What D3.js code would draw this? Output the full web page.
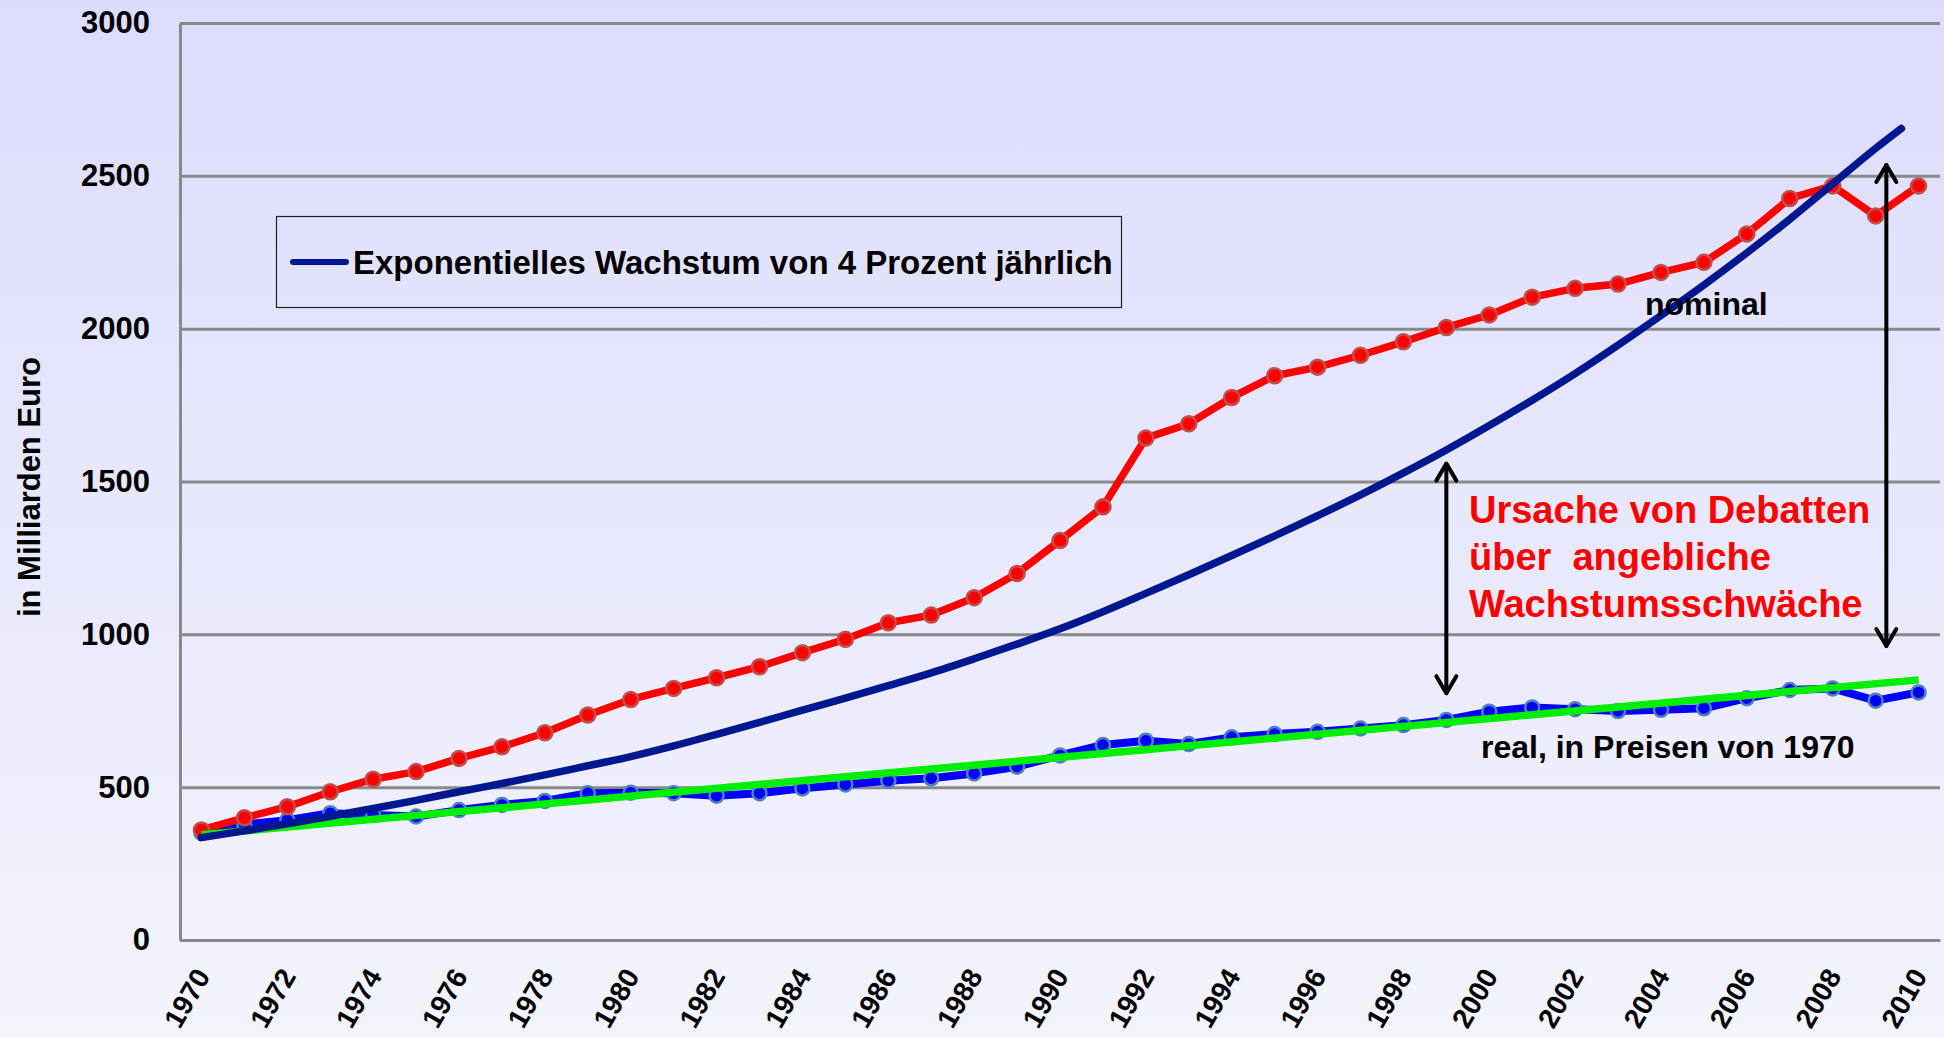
<!DOCTYPE html>
<html>
<head>
<meta charset="utf-8">
<script src="https://cdn.jsdelivr.net/npm/d3@7"></script>
<style>
html, body { margin: 0; padding: 0; background: #e8e8fd; }
svg { display: block; font-family: "Liberation Sans", Arial, Helvetica, sans-serif; }
</style>
</head>
<body>
<div id="chart"></div>
<script>
'use strict';

// Data (Mrd. Euro)
const years = [1970, 1971, 1972, 1973, 1974, 1975, 1976, 1977, 1978, 1979,
    1980, 1981, 1982, 1983, 1984, 1985, 1986, 1987, 1988, 1989,
    1990, 1991, 1992, 1993, 1994, 1995, 1996, 1997, 1998, 1999,
    2000, 2001, 2002, 2003, 2004, 2005, 2006, 2007, 2008, 2009, 2010];

const nominal = [360, 400, 436, 485, 526, 551, 594, 632, 678, 736,
    787, 823, 858, 894, 940, 984, 1038, 1063, 1120, 1199,
    1307, 1417, 1642, 1689, 1775, 1846, 1874, 1913, 1957, 2004,
    2045, 2103, 2132, 2146, 2184, 2217, 2310, 2426, 2467, 2369, 2467];

const real = [350, 378, 392, 415, 409, 404, 425, 442, 455, 480,
    482, 480, 472, 480, 496, 509, 521, 529, 545, 567,
    604, 638, 652, 641, 663, 674, 681, 692, 703, 720,
    747, 761, 755, 749, 753, 758, 791, 818, 823, 783, 810];

// the 4% curve as drawn (ends a bit before 2010)
const expYears = [1970, 1971, 1972, 1973, 1974, 1975, 1976, 1977, 1978, 1979,
    1980, 1981, 1982, 1983, 1984, 1985, 1986, 1987, 1988, 1989,
    1990, 1991, 1992, 1993, 1994, 1995, 1996, 1997, 1998, 1999,
    2000, 2001, 2002, 2003, 2004, 2005, 2006, 2007, 2008, 2009, 2009.6];
const expValues = [335, 357, 380, 405, 430, 457, 485, 512, 540, 570,
    600, 635, 673, 712, 752, 791, 832, 874, 920, 968,
    1018, 1074, 1134, 1195, 1258, 1322, 1388, 1456, 1528, 1603,
    1683, 1766, 1853, 1946, 2043, 2143, 2248, 2358, 2474, 2590, 2655];

const trendYears = [1970, 2010];
const trendValues = [344, 851];

const yTicks = [0, 500, 1000, 1500, 2000, 2500, 3000];
const xTicks = [1970, 1972, 1974, 1976, 1978, 1980, 1982, 1984, 1986, 1988, 1990,
    1992, 1994, 1996, 1998, 2000, 2002, 2004, 2006, 2008, 2010];

const arrowYears = [1999, 2009.25];
const arrowFrom = [1565, 2542];
const arrowTo = [801, 955];

const yTitle = 'in Milliarden Euro';
const legendLabel = 'Exponentielles Wachstum von 4 Prozent jährlich';
const nominalLabel = 'nominal';
const realLabel = 'real, in Preisen von 1970';
const noteLines = ['Ursache von Debatten', 'über  angebliche', 'Wachstumsschwäche'];

const palette = {
    grid: '#898989',
    nominal: '#ff0000',
    nominalRim: '#c0504d',
    real: '#0000ff',
    realRim: '#4f81bd',
    exp: '#00188f',
    trend: '#00ee00',
    ink: '#000000'
};

const width = 1944, height = 1037;
const margins = { top: 23, right: 4, bottom: 97, left: 180 };
const innerWidth = width - margins.left - margins.right;
const innerHeight = height - margins.top - margins.bottom;

const svg = d3.select('#chart').append('svg')
    .attr('width', width)
    .attr('height', height);

let grad = svg.append('defs').append('linearGradient')
    .attr('id', 'bg')
    .attr('x1', 0).attr('y1', 0).attr('x2', 0).attr('y2', 1);
grad.append('stop').attr('offset', '0%').attr('stop-color', '#dcdcfd');
grad.append('stop').attr('offset', '100%').attr('stop-color', '#f4f4fd');

svg.append('rect')
    .attr('width', width)
    .attr('height', height)
    .attr('fill', 'url(#bg)');

const scaleX = d3.scaleLinear()
    .domain([1969.5, 2010.5])
    .range([0, innerWidth]);

const scaleY = d3.scaleLinear()
    .domain([0, 3000])
    .range([innerHeight, 0]);

const chart = svg.append('g')
    .attr('transform', `translate(${margins.left}, ${margins.top})`);

// y axis + grid
let yAxis = d3.axisLeft(scaleY)
    .tickValues(yTicks)
    .tickFormat(d3.format('d'))
    .tickSize(-innerWidth)
    .tickSizeOuter(0)
    .tickPadding(30);

let axisY = chart.append('g').call(yAxis);
axisY.select('.domain')
    .attr('stroke', palette.grid)
    .attr('stroke-width', 3);
axisY.selectAll('.tick line')
    .attr('stroke', palette.grid)
    .attr('stroke-width', 3);
axisY.selectAll('.tick text')
    .attr('fill', palette.ink)
    .style('font-size', '31px')
    .style('font-weight', 'bold')
    .style('font-family', '"Liberation Sans", Arial, sans-serif');

// x axis
let xAxis = d3.axisBottom(scaleX)
    .tickValues(xTicks)
    .tickFormat(d3.format('d'))
    .tickSize(0)
    .tickSizeOuter(0);

let axisX = chart.append('g')
    .attr('transform', `translate(0, ${innerHeight})`)
    .call(xAxis);
axisX.select('.domain')
    .attr('stroke', palette.grid)
    .attr('stroke-width', 3);
axisX.selectAll('.tick text')
    .attr('x', 0)
    .attr('y', 0)
    .attr('dy', 0)
    .attr('text-anchor', 'end')
    .attr('transform', 'translate(9, 36) rotate(-60)')
    .attr('fill', palette.ink)
    .style('font-size', '28px')
    .style('font-weight', 'bold')
    .style('font-family', '"Liberation Sans", Arial, sans-serif');

// y title
svg.append('text')
    .attr('transform', 'translate(40, 487) rotate(-90)')
    .attr('text-anchor', 'middle')
    .style('font-size', '31px')
    .style('font-weight', 'bold')
    .attr('fill', palette.ink)
    .text(yTitle);

// series
let line = d3.line()
    .x(d => scaleX(d[0]))
    .y(d => scaleY(d[1]));

let realPts = years.map((y, i) => [y, real[i]]);
let nominalPts = years.map((y, i) => [y, nominal[i]]);
let expPts = expYears.map((y, i) => [y, expValues[i]]);
let trendPts = trendYears.map((y, i) => [y, trendValues[i]]);

chart.append('path')
    .datum(realPts)
    .attr('d', line)
    .attr('fill', 'none')
    .attr('stroke', palette.real)
    .attr('stroke-width', 8)
    .attr('stroke-linejoin', 'round');

chart.selectAll('.real-dot')
    .data(realPts)
    .join('circle')
    .attr('class', 'real-dot')
    .attr('cx', d => scaleX(d[0]))
    .attr('cy', d => scaleY(d[1]))
    .attr('r', 7)
    .attr('fill', palette.real)
    .attr('stroke', palette.realRim)
    .attr('stroke-width', 2.5);

chart.append('path')
    .datum(nominalPts)
    .attr('d', line)
    .attr('fill', 'none')
    .attr('stroke', palette.nominal)
    .attr('stroke-width', 7.5)
    .attr('stroke-linejoin', 'round');

chart.selectAll('.nom-dot')
    .data(nominalPts)
    .join('circle')
    .attr('class', 'nom-dot')
    .attr('cx', d => scaleX(d[0]))
    .attr('cy', d => scaleY(d[1]))
    .attr('r', 7.5)
    .attr('fill', palette.nominal)
    .attr('stroke', palette.nominalRim)
    .attr('stroke-width', 2.5);

chart.append('path')
    .datum(trendPts)
    .attr('d', line)
    .attr('fill', 'none')
    .attr('stroke', palette.trend)
    .attr('stroke-width', 7.5);

chart.append('path')
    .datum(expPts)
    .attr('d', line.curve(d3.curveMonotoneX))
    .attr('fill', 'none')
    .attr('stroke', palette.exp)
    .attr('stroke-width', 7.5)
    .attr('stroke-linecap', 'round');

// arrows (double headed)
arrowYears.forEach((yr, i) => {
    let ax = scaleX(yr);
    let yTop = scaleY(arrowFrom[i]);
    let yBot = scaleY(arrowTo[i]);
    let g = chart.append('g')
        .attr('fill', 'none')
        .attr('stroke', palette.ink)
        .attr('stroke-width', 4)
        .attr('stroke-linecap', 'round')
        .attr('stroke-linejoin', 'round');
    g.append('line')
        .attr('x1', ax).attr('x2', ax)
        .attr('y1', yTop + 2).attr('y2', yBot - 2);
    g.append('polyline')
        .attr('points', `${ax - 10},${yTop + 19} ${ax},${yTop + 2} ${ax + 10},${yTop + 19}`);
    g.append('polyline')
        .attr('points', `${ax - 10},${yBot - 19} ${ax},${yBot - 2} ${ax + 10},${yBot - 19}`);
});

// labels
svg.append('text')
    .attr('x', 1645)
    .attr('y', 315)
    .style('font-size', '32px')
    .style('font-weight', 'bold')
    .attr('fill', palette.ink)
    .text(nominalLabel);

svg.append('text')
    .attr('x', 1481)
    .attr('y', 758)
    .style('font-size', '32px')
    .style('font-weight', 'bold')
    .attr('fill', palette.ink)
    .text(realLabel);

let note = svg.append('text')
    .attr('x', 1469)
    .attr('y', 523)
    .style('font-size', '38px')
    .style('font-weight', 'bold')
    .style('white-space', 'pre')
    .attr('fill', '#ff0000');
noteLines.forEach((t, i) => {
    note.append('tspan')
        .attr('x', 1469)
        .attr('y', 523 + i * 47)
        .text(t);
});

// legend
let legend = svg.append('g');
legend.append('rect')
    .attr('x', 276.5)
    .attr('y', 216.5)
    .attr('width', 845)
    .attr('height', 91)
    .attr('fill', 'none')
    .attr('stroke', '#222')
    .attr('stroke-width', 1.2);
legend.append('line')
    .attr('x1', 293).attr('x2', 346)
    .attr('y1', 262).attr('y2', 262)
    .attr('stroke', palette.exp)
    .attr('stroke-width', 6)
    .attr('stroke-linecap', 'round');
legend.append('text')
    .attr('x', 353)
    .attr('y', 274)
    .style('font-size', '33px')
    .style('font-weight', 'bold')
    .attr('fill', palette.ink)
    .text(legendLabel);
</script>
</body>
</html>
